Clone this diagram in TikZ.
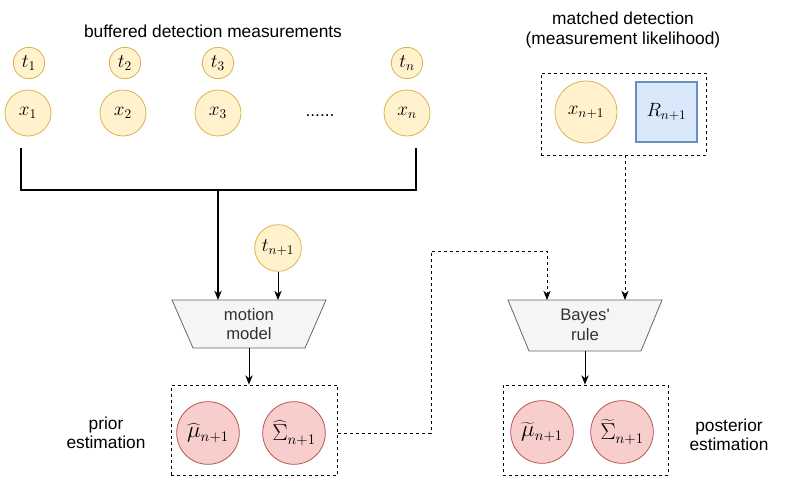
\documentclass[tikz,border=0pt]{standalone}
\usepackage[no-math]{fontspec}
\setmainfont{Liberation Sans}
\font\plainls="Liberation Sans" at 12.5pt
\usetikzlibrary{arrows.meta}
\definecolor{yfill}{HTML}{FFF2CC}
\definecolor{ydraw}{HTML}{D6B656}
\definecolor{rfill}{HTML}{F8CECC}
\definecolor{rdraw}{HTML}{B85450}
\definecolor{bfill}{HTML}{DAE8FC}
\definecolor{bdraw}{HTML}{6C8EBF}
\definecolor{gfill}{HTML}{F5F5F5}
\definecolor{gdraw}{HTML}{666666}
\definecolor{gtext}{HTML}{333333}
\tikzset{
  mathtxt/.style={font=\fontsize{14}{17}\selectfont},
  tcirc/.style={circle, draw=ydraw, fill=yfill, inner sep=0pt, minimum size=23.5pt, line width=0.6pt, mathtxt},
  xcirc/.style={circle, draw=ydraw, fill=yfill, inner sep=0pt, minimum size=34.5pt, line width=0.6pt, mathtxt},
  rcirc/.style={circle, draw=rdraw, fill=rfill, inner sep=0pt, minimum size=47pt, line width=0.6pt, font=\fontsize{16}{19}\selectfont},
  dbox/.style={draw, dashed, dash pattern=on 2.25pt off 2.25pt, line width=0.6pt},
  lbl/.style={font=\fontsize{13}{14.5}\selectfont, align=center, inner sep=0pt},
  trapbox/.style={draw=gdraw, fill=gfill, line width=0.6pt},
  traptxt/.style={font=\fontsize{12.5}{14.5}\selectfont, align=center, text=gtext, inner sep=0pt, minimum width=115.5pt, minimum height=36pt},
  arr/.style={-{Stealth[length=7pt,width=5.5pt]}, line width=0.75pt},
  darr/.style={-{Stealth[length=7pt,width=5.5pt]}, line width=0.6pt, dashed, dash pattern=on 2.25pt off 2.25pt},
}
\begin{document}
\begin{tikzpicture}[x=0.75pt,y=-0.75pt]
\useasboundingbox (0,0) rectangle (791,481);
% titles
\node[lbl] (ttl1) at (213,31) {buffered detection measurements};
\node[lbl] (ttl2) at (623,30) {matched detection\\(measurement likelihood)};
% t circles
\node[tcirc] (t1) at (29,63) {$t_1$};
\node[tcirc] (t2) at (125,63) {$t_2$};
\node[tcirc] (t3) at (218,63) {$t_3$};
\node[tcirc] (tn) at (407,63) {$t_n$};
% x circles
\node[xcirc] (x1) at (28,113) {$x_1$};
\node[xcirc] (x2) at (123,113) {$x_2$};
\node[xcirc] (x3) at (218,113) {$x_3$};
\node[xcirc] (xn) at (407,113) {$x_n$};
\node[lbl] (dots) at (320,116) {......};
% bracket
\coordinate (bl) at (21,148);
\coordinate (br) at (416,148);
\coordinate (bm) at (218,190);
\draw[line width=1.5pt] (bl) |- (br |- bm) -- (br);
% motion model
\draw[trapbox] (172,300) -- (326,300) -- (305,348) -- (193,348) -- cycle;
\node[traptxt] (mm) at (249,324) {motion\\model};
\coordinate (mmin1) at (218,300);
\coordinate (mmin2) at (278,300);
\coordinate (mmout) at (249,348);
\draw[arr, line width=1.5pt] (bm) -- (mmin1);
\node[xcirc, minimum size=35pt] (tn1) at (278,248) {$t_{n+1}$};
\draw[arr] (tn1) -- (mmin2);
% prior box
\node[dbox, minimum width=125pt, minimum height=67.5pt, inner sep=0pt] (prior) at (254.5,430) {};
\node[rcirc] (muh) at (208,433) {$\widehat{\mu}_{n+1}$};
\node[rcirc] (sgh) at (294,433) {$\widehat{\Sigma}_{n+1}$};
\node[lbl] (plbl) at (106,433) {prior\\estimation};
\draw[arr] (mmout) -- (mmout |- prior.north);
% matched detection box
\node[dbox, minimum width=123.75pt, minimum height=61.5pt, inner sep=0pt] (match) at (623.5,114) {};
\node[xcirc, minimum size=46.5pt] (xn1) at (586,112) {$x_{n+1}$};
\node[draw=bdraw, fill=bfill, line width=1.3pt, minimum width=46pt, minimum height=45.5pt, inner sep=0pt, mathtxt] (R) at (666.5,112) {$R_{n+1}$};
% Bayes rule
\draw[trapbox] (508,300) -- (662,300) -- (641,351) -- (529,351) -- cycle;
\node[traptxt] (bayes) at (585,325) {Bayes{\plainls'}\\rule};
\coordinate (bin1) at (547,300);
\coordinate (bin2) at (625,300);
\coordinate (bout) at (585,351);
\draw[darr] (match.south -| bin2) -- (bin2);
\draw[darr] (prior.east |- sgh) -| (431,251) -| (bin1);
% posterior box
\node[dbox, minimum width=123.75pt, minimum height=67.5pt, inner sep=0pt] (post) at (585.5,430) {};
\node[rcirc] (mut) at (542,432) {$\widetilde{\mu}_{n+1}$};
\node[rcirc] (sgt) at (622,432) {$\widetilde{\Sigma}_{n+1}$};
\node[lbl] (qlbl) at (729,435) {posterior\\estimation};
\draw[arr] (bout) -- (bout |- post.north);
\end{tikzpicture}
\end{document}
